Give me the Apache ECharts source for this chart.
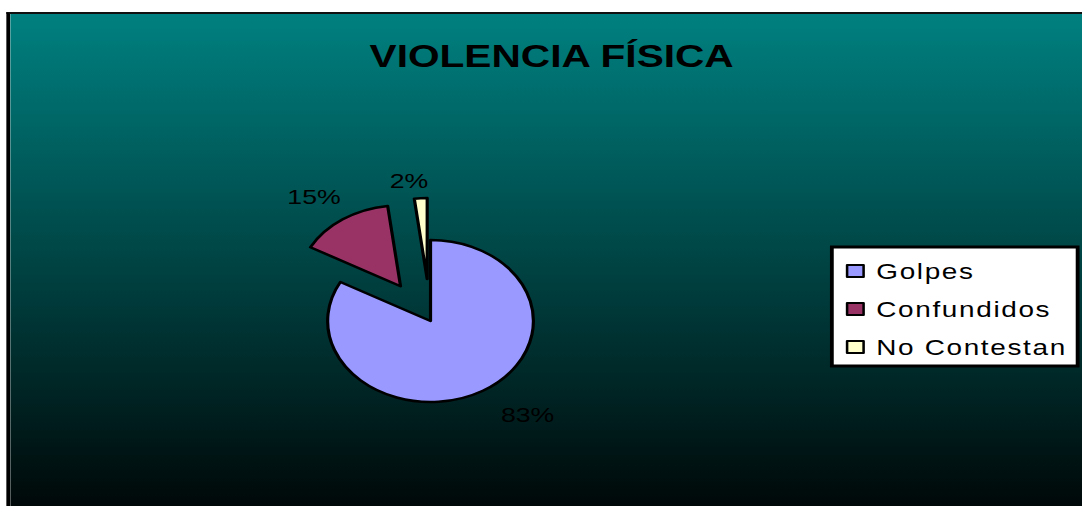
<!DOCTYPE html>
<html>
<head>
<meta charset="utf-8">
<script src="https://cdn.jsdelivr.net/npm/echarts@6/dist/echarts.min.js"></script>
<style>
    html, body { margin: 0; padding: 0; background: #fff; overflow: hidden; }
    /* el original esta estirado en horizontal, se dibuja a 852 px y se escala */
    #wrap { position: absolute; left: 0; top: 0; width: 852px; height: 506px;
            transform: scaleX(1.27); transform-origin: 0 0; }
    #frame { position: absolute; left: 4.7px; top: 12px; right: 0; bottom: 0;
             border-left: 3.2px solid #000; border-top: 2px solid #111; }
    #chart { width: 100%; height: 100%; }
    /* texto de la leyenda algo espaciado como en el original */
    #chart text[style*="22px"] { letter-spacing: 1.3px; }
</style>
</head>
<body>
<div id="wrap"><div id="frame"><div id="chart"></div></div></div>
<script>
// datos del grafico
const categories = ['Golpes', 'Confundidos', 'No Contestan'];
const values = [83, 15, 2];
const exploded = [false, true, true];
const sliceColors = ['#9999FF', '#993366', '#FFFFCC'];

const font = 'Liberation Sans, Arial, sans-serif';
// correccion fina de las etiquetas de porcentaje
const labelShift = [[0, 8], [17, -14], [12, 0]];

let chart = echarts.init(document.getElementById('chart'), null, { renderer: 'svg' });

let pieData = [];
categories.forEach(function (name, i) {
    pieData.push({
        name: name,
        value: values[i],
        selected: exploded[i],
        itemStyle: { color: sliceColors[i] }
    });
});

let option = {
    backgroundColor: {
        type: 'linear', x: 0, y: 0, x2: 0, y2: 1,
        colorStops: [
            { offset: 0, color: '#008080' },
            { offset: 1, color: '#000808' }
        ]
    },
    title: {
        text: 'VIOLENCIA FÍSICA',
        left: 278,
        top: 21,
        textStyle: { fontFamily: font, fontSize: 32, fontWeight: 'bold', color: '#000' }
    },
    legend: {
        orient: 'vertical',
        left: 647,
        top: 233,
        data: categories,
        icon: 'rect',
        itemWidth: 13,
        itemHeight: 12,
        itemGap: 16,
        padding: [13, 24, 8, 11],
        backgroundColor: '#fff',
        borderColor: '#000',
        borderWidth: 3,
        borderRadius: 0,
        itemStyle: { borderColor: '#000', borderWidth: 2 },
        textStyle: { fontFamily: font, fontSize: 22, color: '#000', padding: [0, 0, 0, 5] }
    },
    series: [{
        type: 'pie',
        center: [331, 307],
        radius: 81,
        startAngle: 90,
        clockwise: true,
        selectedMode: 'multiple',
        selectedOffset: 42,
        animation: false,
        itemStyle: { borderColor: '#000', borderWidth: 2.5 },
        emphasis: { disabled: true },
        label: {
            show: true,
            position: 'outside',
            formatter: '{c}%',
            fontFamily: font,
            fontSize: 21,
            color: '#000'
        },
        labelLine: { show: false, length: 18, length2: 0 },
        labelLayout: function (params) {
            let s = labelShift[params.dataIndex];
            return { dx: s[0], dy: s[1] };
        },
        data: pieData
    }]
};
chart.setOption(option);
</script>
</body>
</html>
